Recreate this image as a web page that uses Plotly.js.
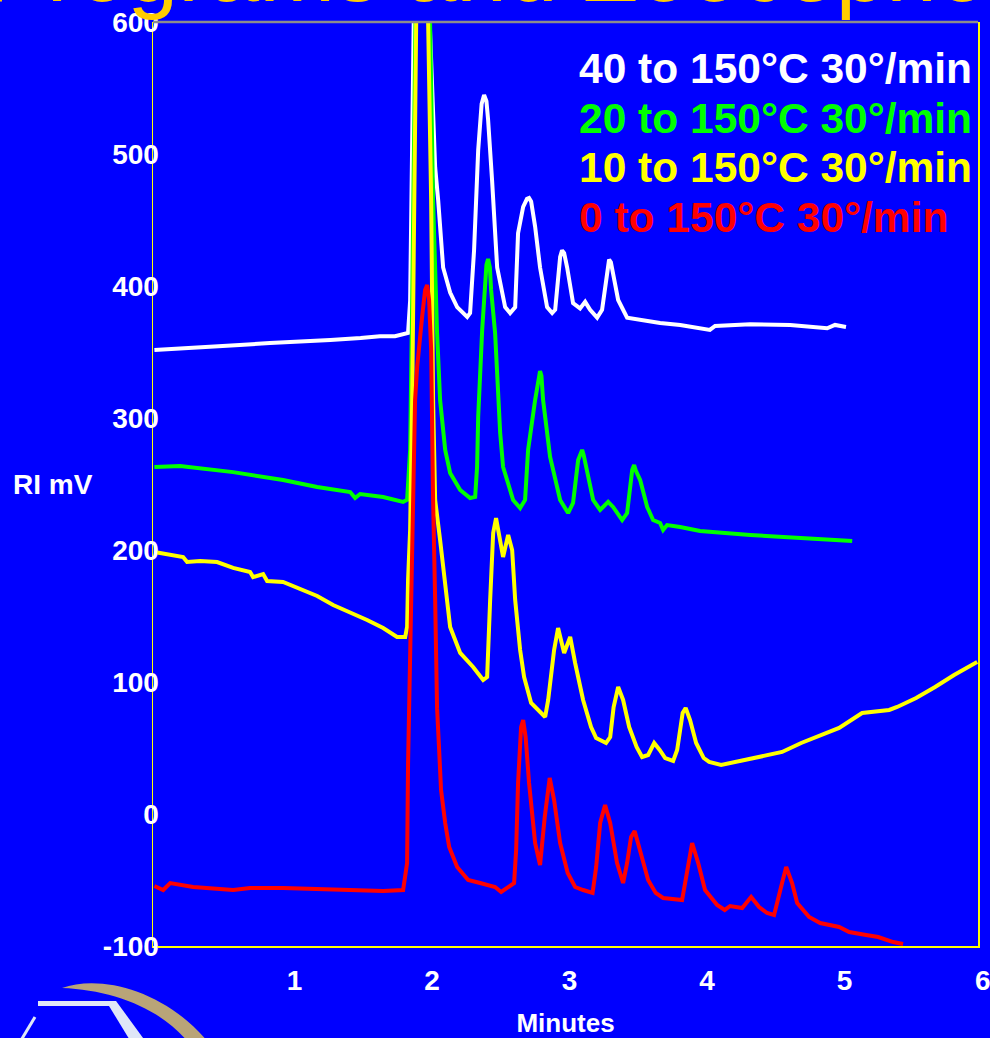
<!DOCTYPE html>
<html>
<head>
<meta charset="utf-8">
<script src="https://cdn.plot.ly/plotly-3.0.1.min.js"></script>
<style>html,body{margin:0;padding:0;background:#0000ff;}#chart{width:990px;height:1038px;}</style>
</head>
<body>
<div id="chart"></div>
<script>
// ---- data (minutes, RI mV) ----
const seriesNames = ["40 to 150°C 30°/min", "20 to 150°C 30°/min", "10 to 150°C 30°/min", "0 to 150°C 30°/min"];
const seriesColors = ["#ffffff", "#00ff00", "#ffff00", "#ff0000"];

const whiteT = [-0.02,0.13,0.24,0.42,0.60,0.82,1.04,1.26,1.48,1.62,1.73,1.80,1.825,1.84,1.847,1.855,1.862,1.876,1.95,1.985,2.007,2.022,2.044,2.08,2.131,2.182,2.255,2.276,2.305,2.335,2.36,2.378,2.395,2.407,2.436,2.473,2.531,2.567,2.604,2.625,2.662,2.69,2.705,2.72,2.749,2.785,2.836,2.873,2.895,2.931,2.945,2.96,2.982,3.025,3.076,3.113,3.149,3.2,3.236,3.273,3.287,3.30,3.316,3.353,3.418,3.513,3.658,3.804,4.02,4.058,4.313,4.604,4.873,4.93,5.01];
const whiteV = [351.5,352.3,353,354.5,355.3,356.8,357.6,359,360.6,362,362,363.6,364.4,389,465,541,600,680,690,600,541,490,465,414,395,384,376.5,379.5,427,503,538,544.7,540,526,480,414,384,379.5,384,440,460,466,466.7,464,445,414,384,379.5,382,422,427,425,414,387,383,388,382,376,382,414,420,418,410,389.4,376,374.2,372,370.5,366.7,369.7,371,370.5,368,370.5,369];

const greenT = [-0.02,0.167,0.553,0.676,0.916,1.164,1.404,1.44,1.476,1.644,1.789,1.818,1.84,1.855,1.862,1.869,1.89,1.95,1.985,2.007,2.036,2.058,2.095,2.131,2.204,2.276,2.313,2.327,2.335,2.364,2.395,2.407,2.42,2.429,2.458,2.495,2.516,2.589,2.64,2.676,2.698,2.749,2.775,2.785,2.795,2.807,2.858,2.931,2.989,3.025,3.062,3.08,3.091,3.102,3.127,3.171,3.222,3.28,3.316,3.382,3.418,3.455,3.469,3.482,3.513,3.564,3.607,3.658,3.68,3.709,3.804,3.949,4.313,4.676,5.055];
const greenV = [262.9,263.6,259,256.8,253,247.7,243.9,239.4,242.4,240.2,236.4,238,275.8,389,503,600,700,700,600,465,364.4,313.6,275.8,258.3,245.5,239.4,240.2,262.9,300.8,366.7,416,420.5,414,397,364.4,288.6,262.9,237.9,231.8,237.9,275.8,313.6,332,335.6,332,313.6,270.5,237.9,228,235.6,268.2,274,275.8,272,258.3,237.9,230.3,236.4,232.6,222.7,228,260.6,264.4,260,253,232.6,222.7,220.5,215.2,218.9,217.4,214.4,211.4,209.1,206.8];

const yellowT = [-0.02,0.189,0.218,0.313,0.436,0.553,0.676,0.698,0.771,0.8,0.916,1.04,1.164,1.28,1.404,1.527,1.644,1.745,1.804,1.818,1.825,1.84,1.855,1.869,1.884,1.91,1.95,1.971,1.993,2.007,2.022,2.058,2.095,2.131,2.204,2.298,2.371,2.4,2.422,2.444,2.465,2.495,2.516,2.553,2.582,2.604,2.64,2.669,2.72,2.822,2.844,2.887,2.916,2.96,3.004,3.04,3.098,3.156,3.193,3.265,3.295,3.32,3.353,3.389,3.433,3.487,3.527,3.571,3.615,3.655,3.695,3.753,3.782,3.822,3.844,3.876,3.92,3.975,4.015,4.102,4.211,4.349,4.545,4.684,4.822,4.96,5.127,5.324,5.382,5.52,5.658,5.796,5.964];
const yellowV = [198.5,194.7,190.9,191.7,190.9,186.4,183.3,179.5,181.8,176.5,175.8,170.3,165.2,158.3,153,147,140.9,134.1,134.1,141.7,177.3,215.2,313.6,465,600,700,700,600,465,313.6,237.9,207.6,172,141.7,122,111.4,101.5,103.8,162.1,212.9,224.2,207.6,194.7,211.4,200,162.1,124.2,103.8,84.1,73.5,86.4,124.2,140.9,122,134.1,114.4,86.4,65.9,57.6,53.8,58.3,81,96.2,86.4,65.9,50.8,43.2,44.7,53.8,48.5,42.4,40.2,48.5,76.5,80.3,71.2,53.8,42.4,39.4,37.1,39.4,42.4,47,53.8,59.8,65.2,76.5,78.8,81.1,87.9,96.2,105.3,115.2];

const redT = [-0.02,0.044,0.095,0.262,0.553,0.676,0.916,1.164,1.404,1.644,1.789,1.818,1.825,1.84,1.855,1.862,1.876,1.891,1.927,1.949,1.964,1.978,1.993,2.0,2.007,2.022,2.036,2.051,2.065,2.095,2.124,2.182,2.262,2.349,2.458,2.502,2.553,2.596,2.611,2.625,2.647,2.662,2.68,2.705,2.749,2.785,2.819,2.855,2.887,2.931,2.986,3.04,3.098,3.167,3.193,3.222,3.258,3.295,3.345,3.389,3.418,3.447,3.473,3.513,3.571,3.626,3.68,3.818,3.847,3.876,3.891,3.935,3.985,4.073,4.128,4.167,4.255,4.32,4.378,4.436,4.487,4.545,4.575,4.618,4.655,4.742,4.822,4.96,5.033,5.156,5.244,5.353,5.425];
const redV = [-54.5,-57.6,-52.3,-55.3,-57.6,-56.1,-56.1,-56.8,-57.6,-58.3,-57.6,-37.1,38.6,139.4,215.2,237.9,313.6,338.6,376.5,397,400.8,389.4,351.5,275.8,237.9,162.1,80,48.5,18.2,-6.8,-25,-40.2,-50,-52.3,-55.3,-59.1,-55.3,-52.3,-27.3,23.5,65.9,71.2,58.3,23.5,-22,-38.6,-2.3,27.3,10.6,-22,-44.7,-55.3,-57.6,-59.8,-40.2,-6.8,6.8,-6.8,-37.1,-52.3,-37.1,-17.4,-12.9,-27.3,-50,-59.8,-63.6,-65.2,-47.7,-27.3,-22,-37.1,-57.6,-68.9,-72.7,-69.7,-71.2,-62.9,-70.5,-75,-76.5,-52.3,-40.2,-52.3,-67.4,-78,-82.6,-85.6,-89.4,-91.7,-93.2,-97,-98.5];

const xTickVals = [1, 2, 3, 4, 5];
const xTickText = ["1", "2", "3", "4", "5"];
const yTickVals = [-100, 0, 100, 200, 300, 400, 500, 600];
const yTickText = ["-100", "0", "100", "200", "300", "400", "500", "600"];

// ---- layout helpers ----
const W = 990, H = 1038, ML = 153, MR = 12, MT = 22, MB = 92;
const PW = W - ML - MR, PH = H - MT - MB;
const px = x => (x - ML) / PW;
const py = y => (H - MB - y) / PH;
const pt = (x, y) => px(x).toFixed(4) + "," + py(y).toFixed(4);

const FONT = "Liberation Sans, Arial, Helvetica, sans-serif";
const xs = [whiteT, greenT, yellowT, redT];
const ys = [whiteV, greenV, yellowV, redV];

const traces = xs.map((t, i) => ({
  type: "scatter", mode: "lines", x: t, y: ys[i], name: seriesNames[i],
  line: { color: seriesColors[i], width: 4 }, hoverinfo: "skip"
}));

const legendY = [68, 118, 167, 217];
const annotations = seriesNames.map((s, i) => ({
  xref: "paper", yref: "paper", x: px(577), y: py(legendY[i]), xanchor: "left", yanchor: "middle",
  text: s, showarrow: false, font: { family: FONT, size: 42.5, color: seriesColors[i], weight: 700 }
}));
annotations.push({
  xref: "paper", yref: "paper", x: px(53), y: py(485), xanchor: "center", yanchor: "middle",
  text: "RI mV", showarrow: false, font: { family: FONT, size: 28, color: "#ffffff", weight: 700 }
});
annotations.push({
  xref: "paper", yref: "paper", x: px(983), y: py(980), xanchor: "center", yanchor: "middle",
  text: "6", showarrow: false, font: { family: FONT, size: 28, color: "#ffffff", weight: 700 }
});
annotations.push({
  xref: "paper", yref: "paper", x: px(-16), y: py(22), xanchor: "left", yanchor: "bottom",
  text: "Programs and Zoocephor", showarrow: false, font: { family: FONT, size: 91, color: "#ffcc00" }
});

const shapes = [
  { type: "line", xref: "paper", yref: "paper", x0: 0, x1: 1, y0: 1, y1: 1, line: { color: "#8c8c8c", width: 2.5 }, layer: "above" },
  { type: "path", xref: "paper", yref: "paper",
    path: "M" + pt(62, 988) + " C" + pt(100, 974) + " " + pt(165, 990) + " " + pt(208, 1042) + " L" + pt(188, 1042) + " C" + pt(160, 1008) + " " + pt(112, 990) + " " + pt(62, 988) + " Z",
    fillcolor: "#b9a478", line: { width: 0 } },
  { type: "path", xref: "paper", yref: "paper",
    path: "M" + pt(38, 1001) + " L" + pt(112, 1001) + " L" + pt(112, 1006) + " L" + pt(38, 1006) + " Z",
    fillcolor: "#dfe6f7", line: { width: 0 } },
  { type: "path", xref: "paper", yref: "paper",
    path: "M" + pt(106, 1001) + " L" + pt(116, 1001) + " L" + pt(146, 1042) + " L" + pt(131, 1042) + " Z",
    fillcolor: "#dfe6f7", line: { width: 0 } },
  { type: "line", xref: "paper", yref: "paper", x0: px(35), y0: py(1017), x1: px(20), y1: py(1042),
    line: { color: "#dfe6f7", width: 3 } }
];

const layout = {
  width: W, height: H,
  margin: { l: ML, r: MR, t: MT, b: MB, pad: 0 },
  paper_bgcolor: "#0000ff", plot_bgcolor: "#0000ff",
  showlegend: false,
  font: { family: FONT, color: "#ffffff" },
  xaxis: {
    range: [-0.03, 5.97], tickmode: "array", tickvals: xTickVals, ticktext: xTickText,
    showgrid: false, zeroline: false, showline: true, linecolor: "#ffff00", linewidth: 1.5,
    ticks: "", ticklabelstandoff: 9,
    tickfont: { family: FONT, size: 28, color: "#ffffff", weight: 700 },
    title: { text: "Minutes", font: { family: FONT, size: 26, color: "#ffffff", weight: 700 }, standoff: 25 }
  },
  yaxis: {
    range: [-100, 600], tickmode: "array", tickvals: yTickVals, ticktext: yTickText,
    showgrid: false, zeroline: false, showline: true, mirror: true, linecolor: "#ffff00", linewidth: 1.5,
    ticks: "", ticklabelstandoff: -13,
    tickfont: { family: FONT, size: 28, color: "#ffffff", weight: 700 }
  },
  annotations: annotations,
  shapes: shapes
};

Plotly.newPlot("chart", traces, layout, { displayModeBar: false, staticPlot: true });
</script>
</body>
</html>
